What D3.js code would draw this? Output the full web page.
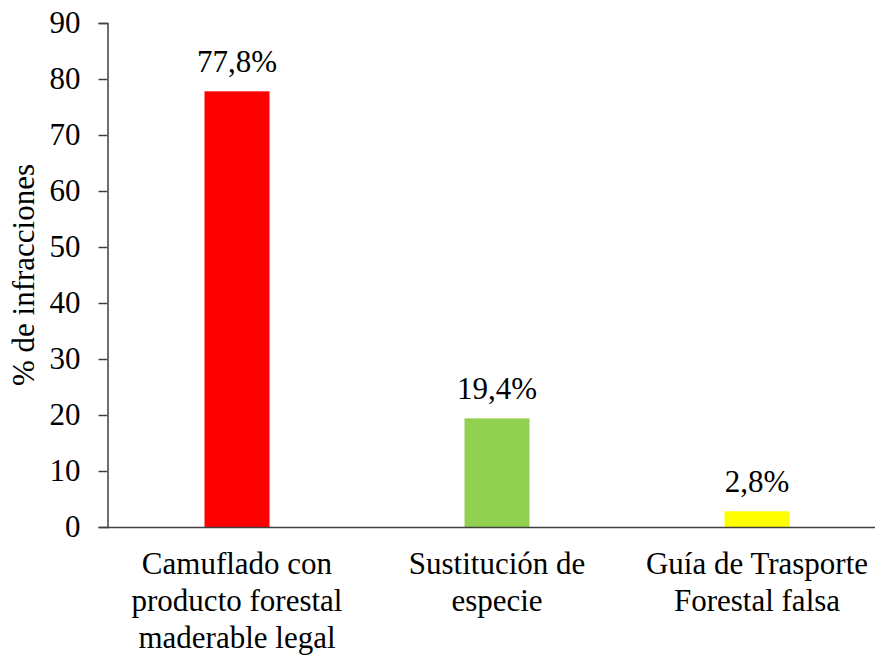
<!DOCTYPE html>
<html><head><meta charset="utf-8">
<script src="https://cdn.jsdelivr.net/npm/d3@7"></script>
<style>
body{margin:0;background:#fff;}
svg text{font-family:"Times New Roman","Liberation Serif",serif;fill:#000;}
</style></head>
<body><svg id="c" width="875" height="655"></svg>
<script>
const categories = [["Camuflado con","producto forestal","maderable legal"],["Sustitución de","especie"],["Guía de Trasporte","Forestal falsa"]];
const values = [77.8, 19.4, 2.8];
const valueLabels = ["77,8%","19,4%","2,8%"];
const colors = ["#FF0000","#92D050","#FFFF00"];
const yTicks = [0,10,20,30,40,50,60,70,80,90];
const yTitle = "% de infracciones";

const svg = d3.select("#c");
const fs = 31;
const x = d3.scaleBand().domain(d3.range(categories.length)).range([107, 887]).paddingInner(0.75).paddingOuter(0.375);
const y = d3.scaleLinear().domain([0, 90]).range([527, 23]);

// bars
svg.selectAll("rect.bar").data(values).join("rect")
  .attr("x", (d,i)=>x(i)).attr("width", x.bandwidth())
  .attr("y", d=>y(d)).attr("height", d=>y(0)-y(d))
  .attr("fill", (d,i)=>colors[i]);

// y axis
const ya = svg.append("g").attr("transform","translate(107.5,0)")
  .call(d3.axisLeft(y).tickValues(yTicks).tickSize(9).tickPadding(18).tickFormat(d3.format("d")));
ya.select(".domain").attr("stroke","#404040").attr("stroke-width",1.5);
ya.selectAll(".tick line").attr("stroke","#404040").attr("stroke-width",1.5);
ya.selectAll(".tick text").attr("font-size",fs).attr("font-family",null).attr("fill","#000");

// x axis line
svg.append("line").attr("x1",107).attr("x2",875).attr("y1",y(0)+0.5).attr("y2",y(0)+0.5)
  .attr("stroke","#404040").attr("stroke-width",1.5);

// value labels
svg.selectAll("text.val").data(values).join("text").attr("class","val")
  .attr("x",(d,i)=>x(i)+x.bandwidth()/2).attr("y",d=>y(d)-19)
  .attr("text-anchor","middle").attr("font-size",fs).text((d,i)=>valueLabels[i]);

// category labels
categories.forEach((lines,i)=>{
  const t = svg.append("text").attr("text-anchor","middle").attr("font-size",fs)
    .attr("x", x(i)+x.bandwidth()/2).attr("y", 574);
  lines.forEach((l,j)=>t.append("tspan").attr("x", x(i)+x.bandwidth()/2).attr("dy", j?37:0).text(l));
});

// y title
svg.append("text").attr("transform","translate(34,275) rotate(-90)")
  .attr("text-anchor","middle").attr("font-size",fs).text(yTitle);
</script></body></html>
